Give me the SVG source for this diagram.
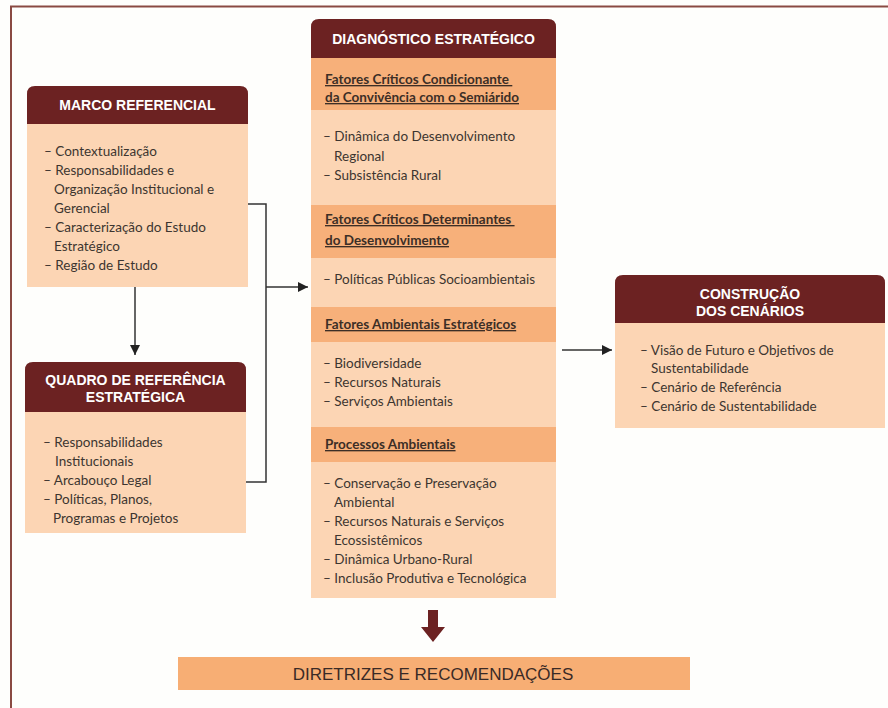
<svg xmlns="http://www.w3.org/2000/svg" width="888" height="708" viewBox="0 0 888 708">
<style>
.hd{fill:#6C2222}
.bd{fill:#FCD5B4}
.sh{fill:#F7B07A}
.tt{font-family:"Liberation Sans",Arial,sans-serif;font-weight:bold;font-size:14px;fill:#FFFFFF;text-anchor:middle}
.tx{font-family:Lato,"Open Sans",sans-serif;font-size:13.5px;fill:#3C3530}
.st{font-family:Lato,"Open Sans",sans-serif;font-size:13.5px;font-weight:bold;fill:#3C2E26;text-decoration:underline}
.cn{fill:none;stroke:#333333;stroke-width:1.5}
</style>
<defs>
<marker id="ah" viewBox="0 0 10 10" refX="10" refY="5" markerWidth="10" markerHeight="10" markerUnits="userSpaceOnUse" orient="auto">
<path d="M0,0 L10,5 L0,10 z" fill="#222222"/>
</marker>
</defs>
<rect x="0" y="0" width="888" height="708" fill="#FEFEFC"/>
<path d="M11,708 V6.5 H888" fill="none" stroke="#8A4A42" stroke-width="2"/>

<g id="marco">
<rect class="bd" x="27" y="110" width="221" height="177"/>
<path class="hd" d="M27,124 V94 Q27,86 35,86 H240 Q248,86 248,94 V124 Z"/>
<text class="tt" x="137.5" y="110">MARCO REFERENCIAL</text>
<text class="tx" x="44" y="156">– Contextualização</text>
<text class="tx" x="44" y="175">– Responsabilidades e</text>
<text class="tx" x="54" y="194">Organização Institucional e</text>
<text class="tx" x="54" y="213">Gerencial</text>
<text class="tx" x="44" y="232">– Caracterização do Estudo</text>
<text class="tx" x="54" y="251">Estratégico</text>
<text class="tx" x="44" y="270">– Região de Estudo</text>
</g>

<g id="quadro">
<rect class="bd" x="25" y="400" width="221" height="133"/>
<path class="hd" d="M25,412 V370 Q25,362 33,362 H238 Q246,362 246,370 V412 Z"/>
<text class="tt" x="135.5" y="385">QUADRO DE REFERÊNCIA</text>
<text class="tt" x="135.5" y="402">ESTRATÉGICA</text>
<text class="tx" x="43" y="447">– Responsabilidades</text>
<text class="tx" x="55" y="466">Institucionais</text>
<text class="tx" x="43" y="485">– Arcabouço Legal</text>
<text class="tx" x="43" y="504">– Políticas, Planos,</text>
<text class="tx" x="53" y="523">Programas e Projetos</text>
</g>

<g id="diagnostico">
<rect class="bd" x="311" y="50" width="245" height="548"/>
<path class="hd" d="M311,58 V27 Q311,19 319,19 H548 Q556,19 556,27 V58 Z"/>
<text class="tt" x="433.5" y="44">DIAGNÓSTICO ESTRATÉGICO</text>
<rect class="sh" x="311" y="58" width="245" height="52"/>
<text class="st" x="325" y="84">Fatores Críticos Condicionante&#160;</text>
<text class="st" x="325" y="102">da Convivência com o Semiárido</text>
<text class="tx" x="323" y="141">– Dinâmica do Desenvolvimento</text>
<text class="tx" x="334" y="161">Regional</text>
<text class="tx" x="323" y="180">– Subsistência Rural</text>
<rect class="sh" x="311" y="205" width="245" height="53"/>
<text class="st" x="325" y="224">Fatores Críticos Determinantes&#160;</text>
<text class="st" x="325" y="245">do Desenvolvimento</text>
<text class="tx" x="323" y="284">– Políticas Públicas Socioambientais</text>
<rect class="sh" x="311" y="307" width="245" height="35"/>
<text class="st" x="325" y="329">Fatores Ambientais Estratégicos</text>
<text class="tx" x="323" y="368">– Biodiversidade</text>
<text class="tx" x="323" y="387">– Recursos Naturais</text>
<text class="tx" x="323" y="406">– Serviços Ambientais</text>
<rect class="sh" x="311" y="427" width="245" height="35"/>
<text class="st" x="325" y="449">Processos Ambientais</text>
<text class="tx" x="323" y="488">– Conservação e Preservação</text>
<text class="tx" x="334" y="507">Ambiental</text>
<text class="tx" x="323" y="526">– Recursos Naturais e Serviços</text>
<text class="tx" x="334" y="545">Ecossistêmicos</text>
<text class="tx" x="323" y="564">– Dinâmica Urbano-Rural</text>
<text class="tx" x="323" y="583">– Inclusão Produtiva e Tecnológica</text>
</g>

<g id="construcao">
<rect class="bd" x="615" y="315" width="270" height="113"/>
<path class="hd" d="M615,323 V283 Q615,275 623,275 H877 Q885,275 885,283 V323 Z"/>
<text class="tt" x="750" y="299">CONSTRUÇÃO</text>
<text class="tt" x="750" y="316">DOS CENÁRIOS</text>
<text class="tx" x="640" y="355">– Visão de Futuro e Objetivos de</text>
<text class="tx" x="651" y="373">Sustentabilidade</text>
<text class="tx" x="640" y="392">– Cenário de Referência</text>
<text class="tx" x="640" y="411">– Cenário de Sustentabilidade</text>
</g>

<g id="diretrizes">
<rect x="178" y="657" width="512" height="33" fill="#F7AE74"/>
<text x="433" y="680" font-family="'Liberation Sans',Arial,sans-serif" font-size="17" fill="#3A2A26" text-anchor="middle">DIRETRIZES E RECOMENDAÇÕES</text>
</g>

<g id="connectors">
<path class="cn" d="M135,287 V355" marker-end="url(#ah)"/>
<path class="cn" d="M248,204 H266 V482 H246"/>
<path class="cn" d="M266,287 H308" marker-end="url(#ah)"/>
<path class="cn" d="M562,350 H612" marker-end="url(#ah)"/>
<path d="M428,610 H438 V627 H445 L433,642 L421,627 H428 Z" fill="#6C2222"/>
</g>
</svg>
